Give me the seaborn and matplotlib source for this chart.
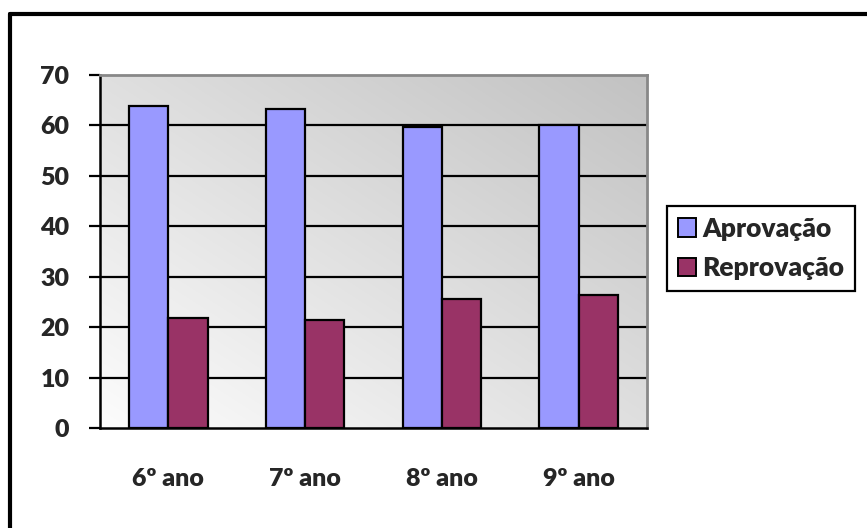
import numpy as np
import pandas as pd
import matplotlib
matplotlib.use("Agg")
import matplotlib.pyplot as plt
from matplotlib.lines import Line2D
from matplotlib.patches import Patch
import seaborn as sns

# Approval / failure rates per school year
anos = ["6º ano", "7º ano", "8º ano", "9º ano"]
aprovacao = [63.8, 63.2, 59.6, 60.0]
reprovacao = [21.8, 21.4, 25.5, 26.4]
series = ["Aprovação", "Reprovação"]
cores = ["#9999FF", "#993366"]
yticks = [0, 10, 20, 30, 40, 50, 60, 70]

df = pd.DataFrame({
    "ano": anos * 2,
    "valor": aprovacao + reprovacao,
    "serie": [series[0]] * len(anos) + [series[1]] * len(anos),
})

sns.set_theme(style="white")
plt.rcParams["font.family"] = ["Lato", "DejaVu Sans"]
plt.rcParams["font.weight"] = "heavy"

FS = 18
WT = "heavy"

W, H = 867, 528
fig = plt.figure(figsize=(W / 100, H / 100), dpi=100)
fig.patch.set_facecolor("white")

# plot area in pixel coordinates
x0, x1, y0, y1 = 100, 647, 75, 428
ax = fig.add_axes([x0 / W, 1 - y1 / H, (x1 - x0) / W, (y1 - y0) / H])
ax.set_facecolor("white")

# diagonal gradient background: light at bottom-left, grey at top-right
n = 256
gx, gy = np.meshgrid(np.linspace(0, 1, n), np.linspace(0, 1, n))
t = (gx + gy) / 2.0
light = np.array([0.99, 0.99, 0.99])
dark = np.array([0.76, 0.76, 0.76])
img = light[None, None, :] * (1 - t[..., None]) + dark[None, None, :] * t[..., None]
ax.imshow(img, extent=[0, 1, 0, 1], origin="lower", transform=ax.transAxes,
          aspect="auto", zorder=0, interpolation="bilinear")

sns.barplot(data=df, x="ano", y="valor", hue="serie", palette=cores,
            width=0.575, edgecolor="black", linewidth=1.6, ax=ax,
            legend=False, zorder=3, saturation=1)

ax.set_ylim(0, 70)
ax.set_xlim(-0.5, len(anos) - 0.5)
ax.set_yticks(yticks)
ax.set_yticklabels([str(v) for v in yticks], fontsize=FS, fontweight=WT)
ax.set_xticks(range(len(anos)))
ax.set_xticklabels(anos, fontsize=FS, fontweight=WT)
ax.set_xlabel("")
ax.set_ylabel("")

# horizontal grid lines
for v in yticks[1:-1]:
    ax.axhline(v, color="black", linewidth=1.6, zorder=1)

# category boundary ticks on the x axis
ax.set_xticks(np.arange(-0.5, len(anos), 1.0), minor=True)
ax.tick_params(axis="x", which="major", length=0, pad=29)
ax.tick_params(axis="x", which="minor", length=8, width=1.6, color="black",
               direction="out")
ax.tick_params(axis="y", length=8, width=1.6, color="black", direction="out",
               pad=14, left=True)

for side in ["left", "bottom"]:
    ax.spines[side].set_color("black")
    ax.spines[side].set_linewidth(1.8)
for side in ["top", "right"]:
    ax.spines[side].set_color("#888888")
    ax.spines[side].set_linewidth(2.0)
    ax.spines[side].set_visible(True)

# legend box on the right
handles = [Patch(facecolor=c, edgecolor="black", linewidth=1.4) for c in cores]
leg = fig.legend(handles, series, loc="upper left",
                 bbox_to_anchor=(667 / W, 1 - 206 / H),
                 frameon=True, fancybox=False, framealpha=1,
                 edgecolor="black", prop={"weight": WT, "size": 19},
                 handlelength=0.7, handleheight=0.7, handletextpad=0.25,
                 borderpad=0.4, labelspacing=0.6, borderaxespad=0)
leg.get_frame().set_linewidth(1.6)

# outer frame lines (top and left)
fig.add_artist(Line2D([10 / W, 1], [1 - 14 / H, 1 - 14 / H], color="black",
                      linewidth=3, transform=fig.transFigure))
fig.add_artist(Line2D([10 / W, 10 / W], [0, 1 - 14 / H], color="black",
                      linewidth=3, transform=fig.transFigure))

fig.savefig("out.png", dpi=100)
